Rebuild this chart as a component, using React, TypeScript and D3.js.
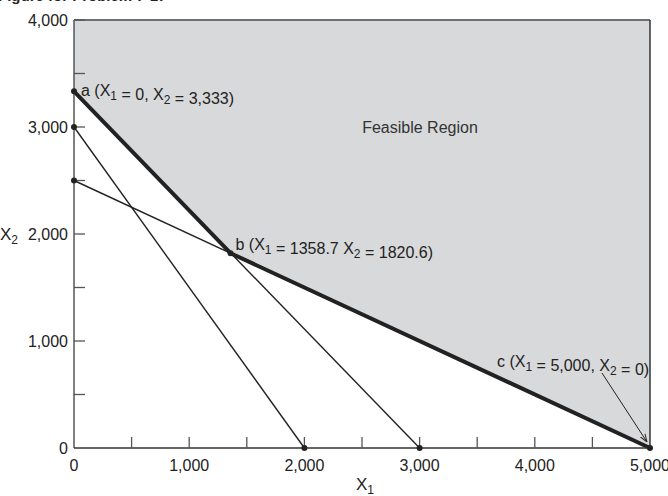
import React from "react";
import * as d3 from "d3";

// constraint lines (endpoints on the axes)
const constraintLines = [
  { x1: 0, y1: 3333, x2: 3000, y2: 0 },
  { x1: 0, y1: 3000, x2: 2000, y2: 0 },
  { x1: 0, y1: 2500, x2: 5000, y2: 0 },
];

// corner points of the feasible region
const cornerPoints = [
  { name: "a", x: 0, y: 3333 },
  { name: "b", x: 1358.7, y: 1820.6 },
  { name: "c", x: 5000, y: 0 },
];

// intercept dots
const dots = [
  [0, 3333],
  [0, 3000],
  [0, 2500],
  [1358.7, 1820.6],
  [2000, 0],
  [3000, 0],
  [5000, 0],
];

const regionTop = 4000;
const xTickLabels = [0, 1000, 2000, 3000, 4000, 5000];
const yTickLabels = [0, 1000, 2000, 3000, 4000];
const minorTicks = [500, 1500, 2500, 3500, 4500];

const width = 668;
const height = 496;
const margin = { top: 20, right: 18, bottom: 48, left: 74 };

const x = d3.scaleLinear().domain([0, 5000]).range([margin.left, width - margin.right]);
const y = d3.scaleLinear().domain([0, 4000]).range([height - margin.bottom, margin.top]);

const fmt = d3.format(",");
const font = "'Liberation Sans', Arial, Helvetica, sans-serif";
const ink = "#222";

const Sub = ({ children }: { children: React.ReactNode }) => (
  <tspan fontSize={12} dy={4}>{children}</tspan>
);
const Up = () => <tspan dy={-4}></tspan>;

export default function App() {
  const [a, b, c] = cornerPoints;
  const region = [
    [a.x, regionTop],
    [c.x, regionTop],
    [c.x, c.y],
    [b.x, b.y],
    [a.x, a.y],
  ];
  const regionPath = d3.line()(region.map(([px, py]) => [x(px), y(py)] as [number, number])) + "Z";
  const thickPath = d3.line()(cornerPoints.map((p) => [x(p.x), y(p.y)] as [number, number]));
  const x0 = x(0);
  const y0 = y(0);

  return (
    <svg
      width={width}
      height={height}
      style={{ position: "absolute", left: 0, top: 0, background: "#fff" }}
      fontFamily={font}
    >
      <defs>
        <marker id="arrow" viewBox="0 0 10 10" refX="10" refY="5" markerWidth="8" markerHeight="8" orient="auto">
          <path d="M0,1.5 L10,5 L0,8.5" fill="none" stroke={ink} strokeWidth={1.2} />
        </marker>
      </defs>

      <text x={-2} y={1} fontSize={15} fontWeight="bold" fill={ink}>
        Figure for Problem 7-17
      </text>

      {/* feasible region */}
      <path d={regionPath} fill="#d8d9db" stroke="none" />
      <line x1={x0} x2={x(5000)} y1={y(4000)} y2={y(4000)} stroke="#6f7072" strokeWidth={2} />
      <line x1={x(5000)} x2={x(5000)} y1={y(4000)} y2={y0} stroke="#333" strokeWidth={1.5} />

      {/* constraint lines */}
      {constraintLines.map((l, i) => (
        <line key={i} x1={x(l.x1)} y1={y(l.y1)} x2={x(l.x2)} y2={y(l.y2)} stroke={ink} strokeWidth={1.4} />
      ))}
      <path d={thickPath ?? ""} fill="none" stroke={ink} strokeWidth={4} strokeLinejoin="round" />

      {/* axes */}
      <line x1={x0} x2={x0} y1={y(4000)} y2={y0} stroke="#555" strokeWidth={1.5} />
      <line x1={x0} x2={x(5000)} y1={y0} y2={y0} stroke="#333" strokeWidth={1.5} />
      {yTickLabels.concat(minorTicks.slice(0, 4)).filter((t) => t > 0).map((t) => (
        <line key={"yt" + t} x1={x0} x2={x0 + 11} y1={y(t)} y2={y(t)} stroke="#555" strokeWidth={1.3} />
      ))}
      {xTickLabels.concat(minorTicks).filter((t) => t > 0 && t < 5000).map((t) => (
        <line key={"xt" + t} x1={x(t)} x2={x(t)} y1={y0} y2={y0 - 11} stroke="#555" strokeWidth={1.3} />
      ))}
      {yTickLabels.map((t) => (
        <text key={"yl" + t} x={x0 - 6} y={y(t)} dy="0.35em" textAnchor="end" fontSize={16} fill={ink}>
          {fmt(t)}
        </text>
      ))}
      {xTickLabels.map((t) => (
        <text key={"xl" + t} x={x(t)} y={y0 + 23} textAnchor="middle" fontSize={16} fill={ink}>
          {fmt(t)}
        </text>
      ))}

      {/* axis titles */}
      <text x={0} y={y(2000) + 6} fontSize={17} fill={ink}>
        X<Sub>2</Sub>
      </text>
      <text x={x(2500) - 6} y={height - 6} fontSize={17} fill={ink}>
        X<Sub>1</Sub>
      </text>

      {/* dots */}
      {dots.map(([px, py], i) => (
        <circle key={i} cx={x(px)} cy={y(py)} r={3} fill={ink} />
      ))}

      {/* annotations */}
      <text x={x(a.x) + 7} y={y(a.y) + 5} fontSize={16} fill={ink}>
        a (X<Sub>1</Sub><Up /> = 0, X<Sub>2</Sub><Up /> = 3,333)
      </text>
      <text x={x(b.x) + 5} y={y(b.y) - 3} fontSize={16} fill={ink}>
        b (X<Sub>1</Sub><Up /> = 1358.7 X<Sub>2</Sub><Up /> = 1820.6)
      </text>
      <text x={497} y={y(0) - 81} fontSize={16} fill={ink}>
        c (X<Sub>1</Sub><Up /> = 5,000, X<Sub>2</Sub><Up /> = 0)
      </text>
      <line x1={602} y1={373} x2={x(c.x) - 3} y2={y(c.y) - 6} stroke={ink} strokeWidth={1} markerEnd="url(#arrow)" />
      <text x={420} y={y(3000) + 6} textAnchor="middle" fontSize={16} fill="#333">
        Feasible Region
      </text>
    </svg>
  );
}
